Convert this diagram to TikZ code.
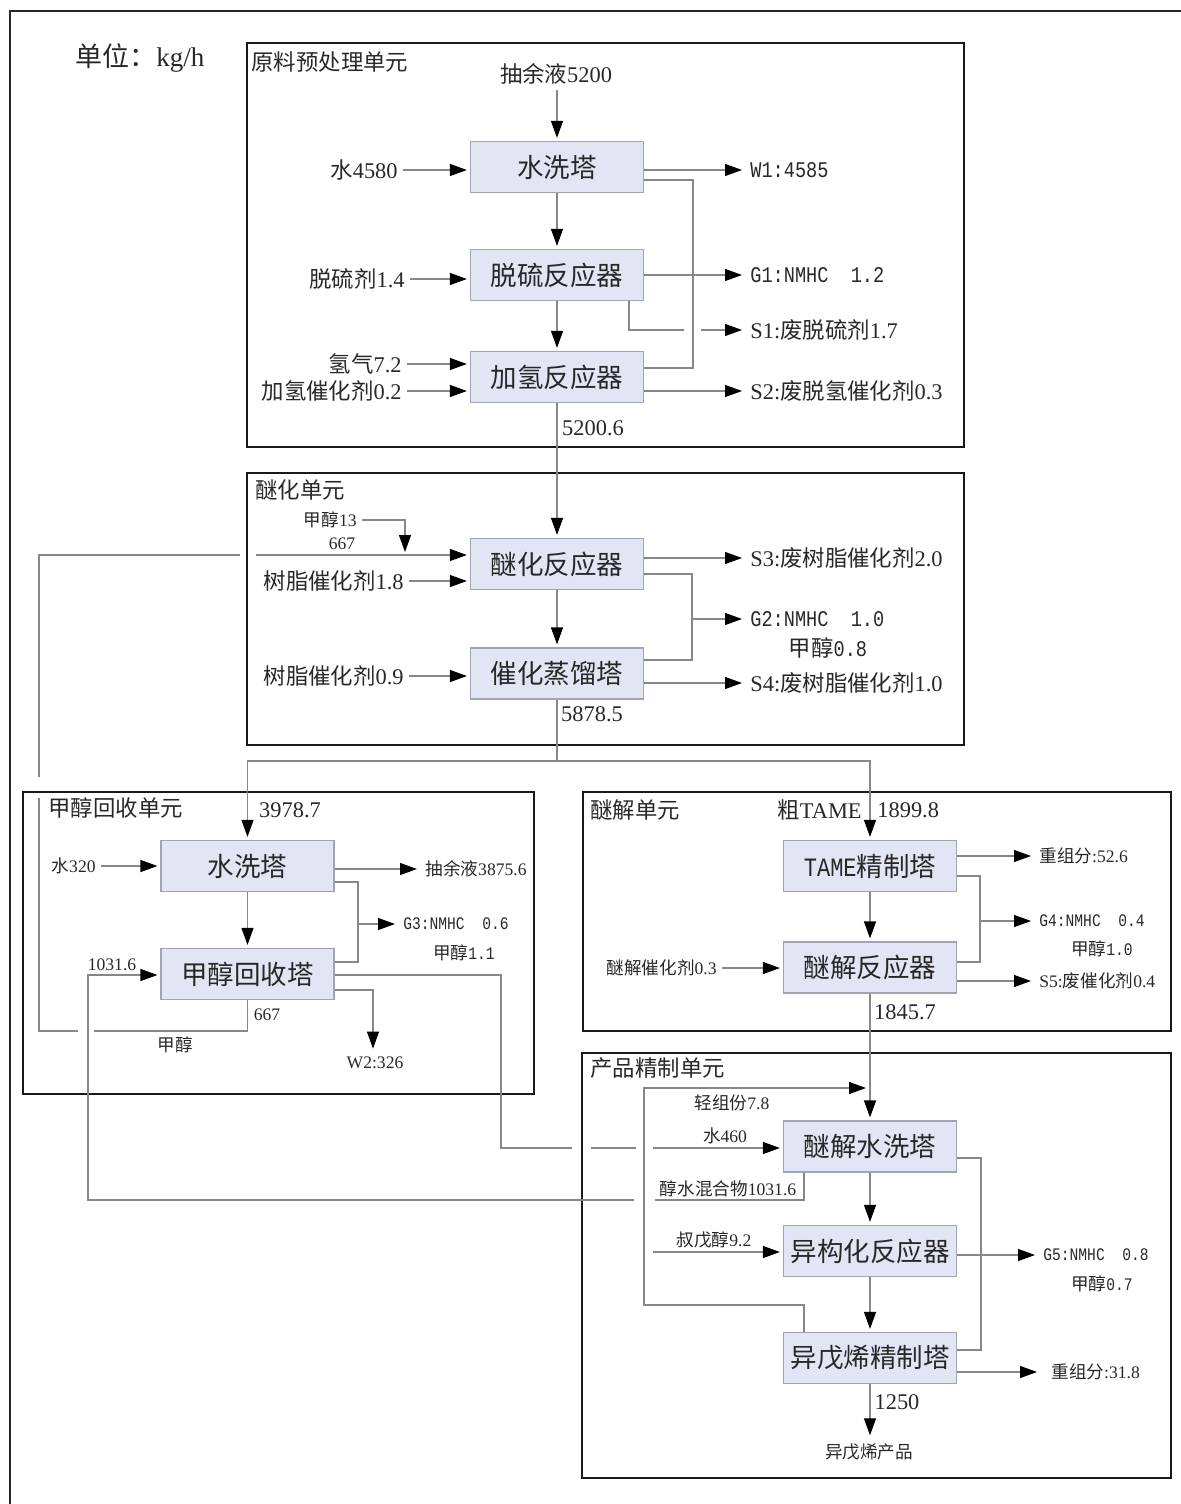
\documentclass[tikz,border=0pt]{standalone}
\usepackage{fontspec}
\setmainfont{Liberation Serif}
\newfontfamily\cjk{Noto Sans CJK SC}
\newfontfamily\monof[FakeStretch=0.83]{Liberation Mono}
\usetikzlibrary{arrows.meta,calc}
\newcommand\zh[1]{{\cjk #1}}
\newcommand\mn[1]{{\monof #1}}
\definecolor{connc}{RGB}{135,135,135}
\definecolor{boxfill}{RGB}{226,230,244}
\definecolor{boxline}{RGB}{160,164,180}
\definecolor{txt}{RGB}{40,40,40}
\tikzset{
  unitbox/.style={draw=black!90, line width=1.4pt},
  pbox/.style={draw=boxline, fill=boxfill, line width=0.6pt, minimum width=86.5pt, minimum height=25.5pt, inner sep=0pt, font=\fontsize{13.25}{15}\cjk, text=txt},
  conn/.style={draw=connc, line width=0.6pt},
  arr/.style={conn, -{Triangle[length=8.5pt,width=6pt,color=black,fill=black]}, shorten >=1.5pt},
  lbl/.style={inner sep=2.5pt, text=txt, font=\fontsize{11.2}{13}\selectfont},
  slbl/.style={inner sep=2.5pt, text=txt, font=\fontsize{8.8}{10}\selectfont},
  ttl/.style={inner sep=1.5pt, text=txt, font=\fontsize{11.2}{13}\selectfont, anchor=west},
}
\begin{document}
\begin{tikzpicture}[x=0.5pt, y=-0.5pt]
\useasboundingbox (0,0) rectangle (1181,1504);
% outer frame
\draw[line width=1.4pt, black!85] (1181,11) -- (10,11) -- (10,1504);
% unit boxes
\draw[unitbox] (247,43) rectangle (964,447);
\draw[unitbox] (247,473) rectangle (964,745);
\draw[unitbox] (23,792) rectangle (534,1094);
\draw[unitbox] (583,792) rectangle (1171,1031);
\draw[unitbox] (582,1053) rectangle (1171,1478);
% titles
\node[font=\fontsize{13.5}{15}\selectfont, text=txt, anchor=west, inner sep=0pt] (unit) at (75,58) {\zh{单位：}kg/h};
\node[ttl] (tA) at (248,62) {\zh{原料预处理单元}};
\node[ttl] (tB) at (252,490) {\zh{醚化单元}};
\node[ttl] (tC) at (45,808) {\zh{甲醇回收单元}};
\node[ttl] (tD) at (587,810) {\zh{醚解单元}};
\node[ttl] (tE) at (587,1068) {\zh{产品精制单元}};
% process boxes
\node[pbox] (A1) at (557,167) {水洗塔};
\node[pbox] (A2) at (557,275) {脱硫反应器};
\node[pbox] (A3) at (557,377) {加氢反应器};
\node[pbox] (B1) at (557,564) {醚化反应器};
\node[pbox] (B2) at (557,673.5) {催化蒸馏塔};
\node[pbox] (C1) at (247.5,866) {水洗塔};
\node[pbox] (C2) at (247.5,974) {甲醇回收塔};
\node[pbox] (D1) at (870,866) {\mn{TAME}精制塔};
\node[pbox] (D2) at (870,967.5) {醚解反应器};
\node[pbox] (E1) at (870,1146.5) {醚解水洗塔};
\node[pbox] (E2) at (870,1251) {异构化反应器};
\node[pbox] (E3) at (870,1358) {异戊烯精制塔};

% ---------- unit A ----------
\node[lbl] (fA) at (556,74) {\zh{抽余液}5200};
\draw[arr] (A1.north |- fA.south) -- (A1.north);
\node[lbl, anchor=east] (w4580) at (403,170) {\zh{水}4580};
\draw[arr] (w4580.east) -- (A1.west |- w4580.east);
\node[lbl, anchor=west] (W1) at (745,170) {\mn{W1:4585}};
\draw[arr] (A1.east |- W1.west) -- (W1.west);
\draw[arr] (A1.south) -- (A2.north);
\node[lbl, anchor=east] (dsj) at (410,279) {\zh{脱硫剂}1.4};
\draw[arr] (dsj.east) -- (A2.west |- dsj.east);
\node[lbl, anchor=west] (G1) at (745,275) {\mn{G1:NMHC~~1.2}};
\draw[arr] (A2.east |- G1.west) -- (G1.west);
\node[lbl, anchor=west] (S1) at (745,330) {S1:\zh{废脱硫剂}1.7};
\coordinate (s1a) at (629,330);
\coordinate (s1b) at (684,330);
\coordinate (s1c) at (701,330);
\draw[conn] (A2.south -| s1a) -- (s1a) -- (s1b);
\draw[arr] (s1c) -- (S1.west);
\draw[arr] (A2.south) -- (A3.north);
\node[lbl, anchor=east] (h2) at (407,364) {\zh{氢气}7.2};
\draw[arr] (h2.east) -- (A3.west |- h2.east);
\node[lbl, anchor=east] (hcat) at (407,391) {\zh{加氢催化剂}0.2};
\draw[arr] (hcat.east) -- (A3.west |- hcat.east);
\node[lbl, anchor=west] (S2) at (745,391) {S2:\zh{废脱氢催化剂}0.3};
\draw[arr] (A3.east |- S2.west) -- (S2.west);
\draw[conn] (A1.east |- 693,180) -| (693,368) -- (A3.east |- 693,368);
\node[lbl] (n52006) at (593,428) {5200.6};
\draw[arr] (A3.south) -- (B1.north);

% ---------- unit B ----------
\node[slbl, anchor=east] (m13) at (362,520) {\zh{甲醇}13};
\coordinate (m13j) at (405,555);
\draw[arr] (m13.east) -| (m13j);
\node[slbl] (n667a) at (342,544) {667};
\coordinate (rc1) at (94,1031);
\coordinate (rc2) at (78,1031);
\coordinate (rc3) at (39,798);
\coordinate (rc4) at (39,777);
\coordinate (rc5) at (240,555);
\coordinate (rc6) at (256,555);
\draw[conn] (C2.south) |- (rc1);
\draw[conn] (rc2) -| (rc3);
\draw[conn] (rc4) |- (rc5);
\draw[arr] (rc6) -- (B1.west |- rc6);
\node[slbl] (n667b) at (267,1015) {667};
\node[slbl] (nmeoh) at (175,1045) {\zh{甲醇}};
\node[lbl, anchor=east] (rc18) at (409,581) {\zh{树脂催化剂}1.8};
\draw[arr] (rc18.east) -- (B1.west |- rc18.east);
\node[lbl, anchor=west] (S3) at (745,558) {S3:\zh{废树脂催化剂}2.0};
\draw[arr] (B1.east |- S3.west) -- (S3.west);
\draw[conn] (B1.east |- 692,574) -| (692,660) -- (B2.east |- 692,660);
\node[lbl, anchor=west] (G2) at (745,619) {\mn{G2:NMHC~~1.0}};
\draw[arr] (692,619) -- (G2.west);
\node[lbl] (G2b) at (828,648) {\zh{甲醇}\mn{0.8}};
\draw[arr] (B1.south) -- (B2.north);
\node[lbl, anchor=east] (rc09) at (409,676) {\zh{树脂催化剂}0.9};
\draw[arr] (rc09.east) -- (B2.west |- rc09.east);
\node[lbl, anchor=west] (S4) at (745,683) {S4:\zh{废树脂催化剂}1.0};
\draw[arr] (B2.east |- S4.west) -- (S4.west);
\node[lbl] (n58785) at (592,714) {5878.5};
\coordinate (jn) at (557,761);
\draw[conn] (B2.south) -- (jn);
\draw[arr] (jn) -| (C1.north);
\draw[arr] (jn) -| (D1.north);

% ---------- unit C ----------
\node[lbl] (n39787) at (290,810) {3978.7};
\node[slbl, anchor=east] (w320) at (101,866) {\zh{水}320};
\draw[arr] (w320.east) -- (C1.west |- w320.east);
\node[slbl, anchor=west] (raf) at (420,869) {\zh{抽余液}3875.6};
\draw[arr] (C1.east |- raf.west) -- (raf.west);
\draw[arr] (C1.south) -- (C2.north);
\draw[conn] (C1.east |- 358,882) -| (358,962) -- (C2.east |- 358,962);
\node[slbl, anchor=west] (G3) at (398,924) {\mn{G3:NMHC~~0.6}};
\draw[arr] (358,924) -- (G3.west);
\node[slbl] (G3b) at (464,953) {\zh{甲醇}\mn{1.1}};
\node[slbl] (n10316) at (112,965) {1031.6};
\node[slbl] (W2) at (375,1063) {W2:326};
\draw[arr] (C2.east |- 373,990) -| (W2.north -| 373,990);
\coordinate (wa) at (572,1148);
\coordinate (wb) at (591,1148);
\coordinate (wc) at (636,1148);
\coordinate (wd) at (653,1148);
\draw[conn] (C2.east |- 501,975) -| (501,1148) -- (wa);
\draw[conn] (wb) -- (wc);
\draw[arr] (wd) -- (E1.west |- wd);
\node[slbl] (w460) at (725,1136) {\zh{水}460};

% ---------- unit D ----------
\node[lbl, anchor=east] (cT) at (867,810) {\zh{粗}TAME};
\node[lbl, anchor=west] (n18998) at (872,810) {1899.8};
\draw[arr] (D1.south) -- (D2.north);
\node[slbl, anchor=west] (hv1) at (1034,856) {\zh{重组分}:52.6};
\draw[arr] (D1.east |- hv1.west) -- (hv1.west);
\draw[conn] (D1.east |- 980,876) -| (980,962) -- (D2.east |- 980,962);
\node[slbl, anchor=west] (G4) at (1034,921) {\mn{G4:NMHC~~0.4}};
\draw[arr] (980,921) -- (G4.west);
\node[slbl] (G4b) at (1102,949) {\zh{甲醇}\mn{1.0}};
\node[slbl, anchor=east] (ejc) at (722,968) {\zh{醚解催化剂}0.3};
\draw[arr] (ejc.east) -- (D2.west |- ejc.east);
\node[slbl, anchor=west] (S5) at (1034,981) {S5:\zh{废催化剂}0.4};
\draw[arr] (D2.east |- S5.west) -- (S5.west);
\node[lbl] (n18457) at (905,1012) {1845.7};
\draw[arr] (D2.south) -- (E1.north);

% ---------- unit E ----------
\coordinate (lt1) at (644,1305);
\coordinate (lt2) at (869,1088);
\draw[arr] (E3.north -| 804,0) |- (lt1) |- (lt2);
\node[slbl] (lt) at (732,1103) {\zh{轻组份}7.8};
\draw[arr] (E1.south) -- (E2.north);
\draw[arr] (E2.south) -- (E3.north);
\coordinate (ma) at (655,1200);
\coordinate (mb) at (634,1200);
\draw[conn] (E1.south -| 804,0) |- (ma);
\draw[arr] (mb) -| (88,975) -- (C2.west |- 88,975);
\node[slbl] (mix) at (728,1189) {\zh{醇水混合物}1031.6};
\node[slbl] (tpa) at (714,1240) {\zh{叔戊醇}9.2};
\coordinate (tp) at (653,1252);
\draw[arr] (tp) -- (E2.west |- tp);
\draw[conn] (E1.east |- 981,1158) -| (981,1350) -- (E3.east |- 981,1350);
\node[slbl, anchor=west] (G5) at (1038,1255) {\mn{G5:NMHC~~0.8}};
\draw[arr] (E2.east |- G5.west) -- (G5.west);
\node[slbl] (G5b) at (1102,1284) {\zh{甲醇}\mn{0.7}};
\node[slbl, anchor=west] (hv2) at (1046,1372) {\zh{重组分}:31.8};
\coordinate (hv2t) at (1040,1372);
\draw[arr] (E3.east |- hv2t) -- (hv2t);
\node[lbl] (n1250) at (897,1402) {1250};
\node[slbl] (prod) at (869,1452) {\zh{异戊烯产品}};
\draw[arr] (E3.south) -- (prod.north -| E3.south);
\end{tikzpicture}
\end{document}
